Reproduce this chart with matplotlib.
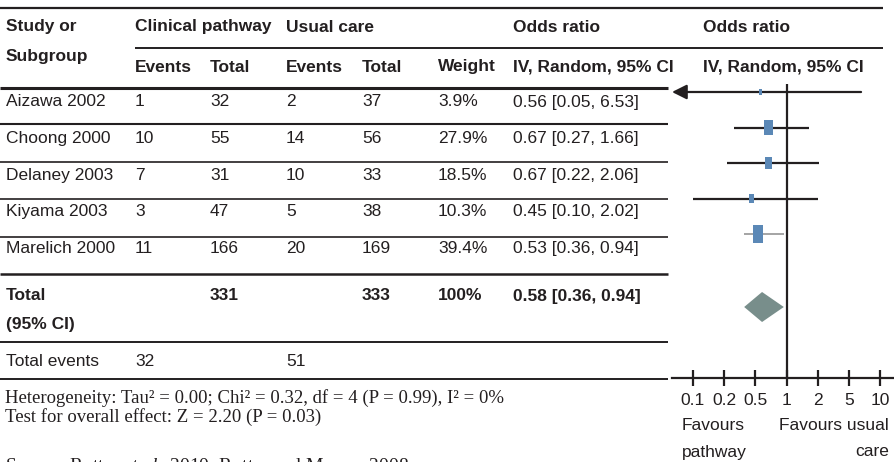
import numpy as np
import matplotlib
matplotlib.use("Agg")
import matplotlib.pyplot as plt

# data
studies = ["Aizawa 2002", "Choong 2000", "Delaney 2003", "Kiyama 2003", "Marelich 2000"]
cp_events = [1, 10, 7, 3, 11]
cp_total = [32, 55, 31, 47, 166]
uc_events = [2, 14, 10, 5, 20]
uc_total = [37, 56, 33, 38, 169]
weights = [3.9, 27.9, 18.5, 10.3, 39.4]
or_est = [0.56, 0.67, 0.67, 0.45, 0.53]
or_lo = [0.05, 0.27, 0.22, 0.10, 0.36]
or_hi = [6.53, 1.66, 2.06, 2.02, 0.94]

pooled = (0.58, 0.36, 0.94)
total_cp, total_uc = 331, 333
events_cp, events_uc = 32, 51
ticks = [0.1, 0.2, 0.5, 1, 2, 5, 10]
tick_labels = ["0.1", "0.2", "0.5", "1", "2", "5", "10"]

sans = "Liberation Sans"
serif = "Liberation Serif"
ink = "#231f20"
fs = 12.5

plt.rcParams["mathtext.fontset"] = "custom"
plt.rcParams["mathtext.rm"] = "Liberation Serif"
plt.rcParams["mathtext.it"] = "Liberation Serif:italic"

fig = plt.figure(figsize=(8.94, 4.62), dpi=100)

# ---- table drawn in pixel coordinates ----
tab = fig.add_axes([0, 0, 1, 1])
tab.set_xlim(0, 894)
tab.set_ylim(462, 0)
tab.axis("off")

cols = [6, 135, 210, 286, 362, 438, 513]

def txt(x, y, s, bold=False, ha="left"):
    tab.text(x, y, s, fontsize=fs, family=sans, color=ink,
             fontweight="bold" if bold else "normal", va="center", ha=ha)

# rules
tab.hlines(8, 0, 883, color=ink, lw=1.6)
tab.hlines(48, 135, 883, color=ink, lw=1.4)
tab.hlines(88, 0, 668, color=ink, lw=2.2)
for yy, w in [(124, 1.5), (162, 1.2), (199, 1.2), (237, 1.2), (274, 1.8), (342, 1.4), (379, 1.4)]:
    tab.hlines(yy, 0, 668, color=ink, lw=w)

# header
txt(cols[0], 27, "Study or", bold=True)
txt(cols[0], 57, "Subgroup", bold=True)
txt(cols[1], 27, "Clinical pathway", bold=True)
txt(cols[3], 27, "Usual care", bold=True)
txt(cols[6], 27, "Odds ratio", bold=True)
txt(703, 27, "Odds ratio", bold=True)
for c, s in zip(cols[1:], ["Events", "Total", "Events", "Total", "Weight", "IV, Random, 95% CI"]):
    txt(c, 67, s, bold=True)
txt(703, 67, "IV, Random, 95% CI", bold=True)

# study rows
for i, name in enumerate(studies):
    y = 102 + i * 36.6
    vals = [name, str(cp_events[i]), str(cp_total[i]), str(uc_events[i]), str(uc_total[i]),
            f"{weights[i]:.1f}%", f"{or_est[i]:.2f} [{or_lo[i]:.2f}, {or_hi[i]:.2f}]"]
    for c, s in zip(cols, vals):
        txt(c, y, s)

# totals
txt(cols[0], 296, "Total", bold=True)
txt(cols[0], 325, "(95% CI)", bold=True)
txt(cols[2], 296, str(total_cp), bold=True)
txt(cols[4], 296, str(total_uc), bold=True)
txt(cols[5], 296, f"{sum(weights):.0f}%", bold=True)
txt(cols[6], 296, f"{pooled[0]:.2f} [{pooled[1]:.2f}, {pooled[2]:.2f}]", bold=True)
txt(cols[0], 361, "Total events")
txt(cols[1], 361, str(events_cp))
txt(cols[3], 361, str(events_uc))

tab.text(5, 403, "Heterogeneity: Tau² = 0.00; Chi² = 0.32, df = 4 (P = 0.99), I² = 0%",
         family=serif, fontsize=13.5, color=ink, va="baseline")
tab.text(5, 422, "Test for overall effect: Z = 2.20 (P = 0.03)",
         family=serif, fontsize=13.5, color=ink, va="baseline")
tab.text(5, 471, "Source: Rotter $\\it{et\\ al.}$ 2010; Rotter and Murray 2008",
         family=serif, fontsize=14, color=ink, va="baseline")

txt(682, 425, "Favours")
txt(682, 452, "pathway")
txt(889, 425, "Favours usual", ha="right")
txt(889, 452, "care", ha="right")

# ---- forest plot: ticks equally spaced, log between ticks ----
lt = np.log10(ticks)
idx = np.arange(len(ticks), dtype=float)

def fwd(x):
    lx = np.log10(np.clip(np.asarray(x, dtype=float), 1e-6, None))
    out = np.interp(lx, lt, idx)
    out = np.where(lx < lt[0], (lx - lt[0]) / (lt[1] - lt[0]), out)
    out = np.where(lx > lt[-1], idx[-1] + (lx - lt[-1]) / (lt[-1] - lt[-2]), out)
    return out

def inv(p):
    p = np.asarray(p, dtype=float)
    out = np.interp(p, idx, lt)
    out = np.where(p < 0, lt[0] + p * (lt[1] - lt[0]), out)
    out = np.where(p > idx[-1], lt[-1] + (p - idx[-1]) * (lt[-1] - lt[-2]), out)
    return 10 ** out

ax_l, ax_r, ax_t, ax_b = 672, 894, 84, 378
ax = fig.add_axes([ax_l / 894, (462 - ax_b) / 462, (ax_r - ax_l) / 894, (ax_b - ax_t) / 462])
ax.patch.set_alpha(0)
ax.set_xscale("function", functions=(fwd, inv))
xmin, xmax = inv(-0.67), inv(6.44)
ax.set_xlim(xmin, xmax)
row_px = 35.5
ax.set_ylim((ax_b - 92) / row_px, (ax_t - 92) / row_px)

ax.axvline(1, color=ink, lw=1.6)

ypos = np.arange(len(studies))
for i in range(len(studies)):
    if or_lo[i] < xmin:
        ax.annotate("", xy=(xmin, ypos[i]), xytext=(or_hi[i], ypos[i]),
                    arrowprops=dict(arrowstyle="-|>", color=ink, lw=1.6,
                                    mutation_scale=22, shrinkA=0, shrinkB=0))
    elif i == len(studies) - 1:
        ax.hlines(ypos[i], or_lo[i], or_hi[i], color="#8c8c8c", lw=1.1)
    else:
        ax.hlines(ypos[i], or_lo[i], or_hi[i], color=ink, lw=1.6)

box = [(-0.55, -1), (0.55, -1), (0.55, 1), (-0.55, 1), (-0.55, -1)]
heights = 2.9 * np.sqrt(weights) * 0.72
ax.scatter(or_est, ypos, s=heights ** 2, marker=box, color="#5b88b6", linewidths=0, zorder=3)

dy = 15 / row_px
yd = (307 - 92) / row_px
ax.fill([pooled[1], pooled[0], pooled[2], pooled[0]], [yd, yd - dy, yd, yd + dy],
        color="#788e8b", lw=0, zorder=3)

for s in ["top", "left", "right"]:
    ax.spines[s].set_visible(False)
ax.spines["bottom"].set_color(ink)
ax.spines["bottom"].set_linewidth(1.6)
ax.set_yticks([])
ax.set_xticks(ticks)
ax.set_xticklabels(tick_labels)
ax.minorticks_off()
ax.tick_params(axis="x", direction="inout", length=11, width=1.6, color=ink,
               labelsize=fs, labelcolor=ink, pad=5)
for lab in ax.get_xticklabels():
    lab.set_family(sans)

fig.savefig("out.png", dpi=100)
